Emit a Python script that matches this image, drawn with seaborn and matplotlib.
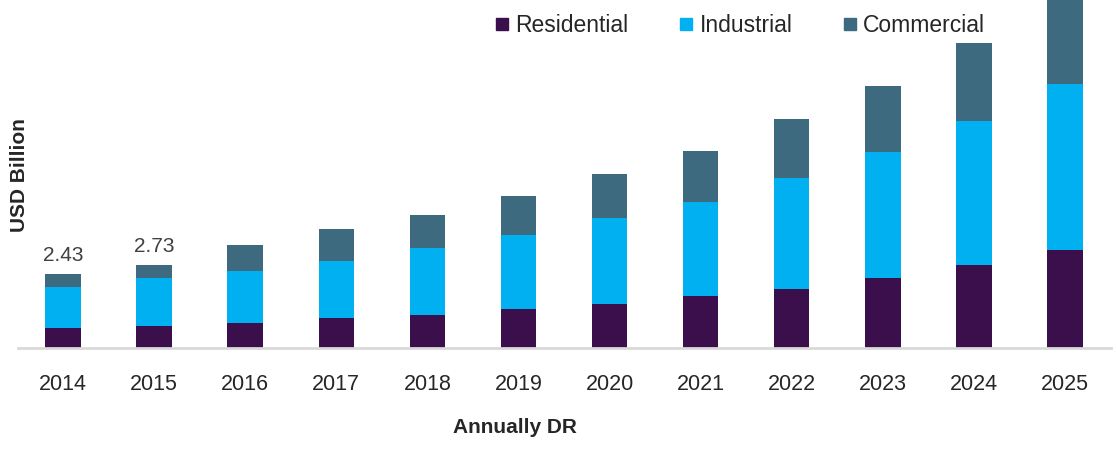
#import
import numpy as np
import pandas as pd
import matplotlib
matplotlib.use('Agg')
import matplotlib.pyplot as plt
from matplotlib.lines import Line2D
import seaborn as sns


#data
years = ['2014', '2015', '2016', '2017', '2018', '2019',
         '2020', '2021', '2022', '2023', '2024', '2025']
residential = [0.66, 0.73, 0.83, 0.97, 1.09, 1.28, 1.45, 1.70, 1.93, 2.30, 2.72, 3.20]
industrial = [1.33, 1.58, 1.71, 1.88, 2.19, 2.43, 2.80, 3.09, 3.64, 4.13, 4.73, 5.47]
commercial = [0.44, 0.42, 0.84, 1.04, 1.09, 1.27, 1.45, 1.68, 1.94, 2.17, 2.55, 3.00]
labelled = {'2014': '2.43', '2015': '2.73'}

series = ['Residential', 'Industrial', 'Commercial']
colors = ['#3b0f4b', '#00b0f0', '#3e6a80']


if __name__ == '__main__':
    sns.set_style('white')
    plt.rcParams['font.family'] = ['Liberation Sans', 'DejaVu Sans']

    df = pd.DataFrame({'year': years, 'Residential': residential,
                       'Industrial': industrial, 'Commercial': commercial})
    df['c1'] = df['Residential']
    df['c2'] = df['c1'] + df['Industrial']
    df['c3'] = df['c2'] + df['Commercial']

    fig = plt.figure(figsize=(11.16, 4.53), dpi=100)
    ax = fig.add_axes([17.5 / 1116, 105 / 453, 1093 / 1116, 348 / 453])

    #stacked bars, drawn from the top down
    for col, c in zip(['c3', 'c2', 'c1'], colors[::-1]):
        sns.barplot(data=df, x='year', y=col, color=c, width=0.39,
                    saturation=1, linewidth=0, ax=ax, zorder=2)

    #total labels
    for i, y in enumerate(years):
        if y in labelled:
            ax.text(i, df['c3'][i] + 0.3, labelled[y], ha='center', va='bottom',
                    fontsize=15, color='#404040')

    ax.set_xlim(-0.5, 11.5)
    ax.set_ylim(0, 348 / 30.5)
    ax.set_yticks([])
    for s in ['top', 'right', 'left']:
        ax.spines[s].set_visible(False)
    ax.spines['bottom'].set_color('#d9d9d9')
    ax.spines['bottom'].set_linewidth(2)
    ax.tick_params(axis='x', length=0, pad=19, labelsize=15.5, labelcolor='#262626')

    ax.set_xlabel('Annually DR', fontsize=15, fontweight='bold', color='#262626')
    ax.xaxis.set_label_coords((515 - 17.5) / 1093, -0.2)
    ax.set_ylabel('')
    fig.text(20 / 1116, (453 - 175) / 453, 'USD Billion', rotation=90,
             ha='center', va='center', fontsize=15, fontweight='bold', color='#262626')

    handles = [Line2D([0], [0], marker='s', color='none', markerfacecolor=c,
                      markeredgecolor=c, markersize=8) for c in colors]
    ax.legend(handles, series, ncol=3, frameon=False, fontsize=16.5,
              loc='center', bbox_to_anchor=((740 - 17.5) / 1093, (348 - 26) / 348),
              handlelength=0.6, handletextpad=0.3, columnspacing=2.2,
              labelcolor='#262626')

    fig.savefig('out.png', dpi=100)
